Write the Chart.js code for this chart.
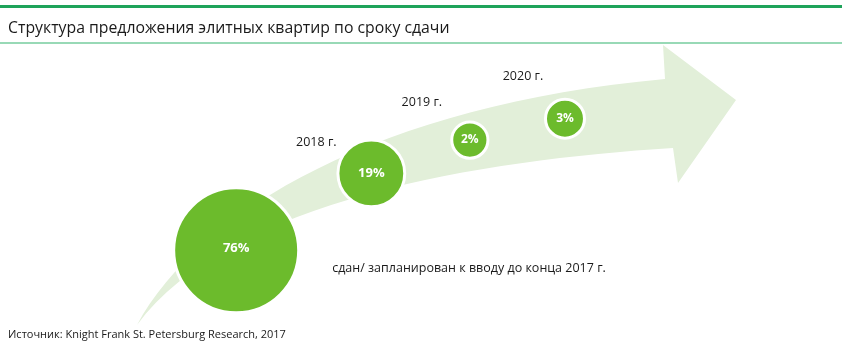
<!DOCTYPE html>
<html>
<head>
<meta charset="utf-8">
<script src="https://cdn.jsdelivr.net/npm/chart.js@4.4.1/dist/chart.umd.min.js"></script>
<style>
html,body{margin:0;padding:0;background:#fff;}
#wrap{width:842px;height:351px;position:relative;}
</style>
</head>
<body>
<div id="wrap"><canvas id="c" width="842" height="351"></canvas></div>
<script>
// ---- data ----
const title = 'Структура предложения элитных квартир по сроку сдачи';
const source = 'Источник: Knight Frank St. Petersburg Research, 2017';
const categories = ['сдан/ запланирован к вводу до конца 2017 г.', '2018 г.', '2019 г.', '2020 г.'];
const shares = [76, 19, 2, 3];
// layout: bubble placement along the arrow (axis units 0..100)
const trackX = [28.05, 44.1, 55.8, 67.1];
const trackY = [28.7, 50.6, 60.1, 66.2];
// layout: category label offsets from bubble centre (px)
const labelOffsets = [[96, 18, 'left'], [-55, -31, 'center'], [-48, -38, 'center'], [-42, -42, 'center']];

const FONT = '"Open Sans", "Noto Sans", sans-serif';
const GREEN = '#6cbb2c';

function bubbleRadius(v) {
  return 13.5 + 49 * Math.pow(v / 76, 0.65);
}

const arrowPlugin = {
  id: 'arrow',
  beforeDatasetsDraw(chart) {
    const ctx = chart.ctx;
    ctx.save();
    ctx.fillStyle = '#e2efd9';
    ctx.beginPath();
    ctx.moveTo(137, 325);
    ctx.bezierCurveTo(200, 210, 380, 105, 665, 79);
    ctx.lineTo(663, 45);
    ctx.lineTo(736, 100);
    ctx.lineTo(678, 183);
    ctx.lineTo(673, 148);
    ctx.bezierCurveTo(480, 160, 230, 200, 137, 325);
    ctx.closePath();
    ctx.fill();
    ctx.restore();
  }
};

const framePlugin = {
  id: 'frame',
  afterDraw(chart) {
    const ctx = chart.ctx;
    ctx.save();
    ctx.fillStyle = '#1ea35a';
    ctx.fillRect(0, 5, 842, 3);
    ctx.fillStyle = '#98d9b6';
    ctx.fillRect(0, 42, 842, 2);
    ctx.fillStyle = '#1a1a1a';
    ctx.textBaseline = 'middle';
    ctx.textAlign = 'left';
    ctx.font = '15.8px ' + FONT;
    ctx.fillText(title, 8, 28);
    ctx.font = '11px ' + FONT;
    ctx.fillText(source, 8, 335);
    ctx.restore();
  }
};

const labelPlugin = {
  id: 'labels',
  afterDatasetsDraw(chart) {
    const ctx = chart.ctx;
    const meta = chart.getDatasetMeta(0);
    ctx.save();
    ctx.textBaseline = 'middle';
    meta.data.forEach((el, i) => {
      ctx.fillStyle = '#ffffff';
      ctx.textAlign = 'center';
      ctx.font = 'bold ' + (shares[i] >= 10 ? 13 : 12) + 'px ' + FONT;
      ctx.fillText(shares[i] + '%', el.x, el.y - (shares[i] >= 50 ? 2 : 0));
      const o = labelOffsets[i];
      ctx.fillStyle = '#1a1a1a';
      ctx.textAlign = o[2];
      ctx.font = '12.5px ' + FONT;
      ctx.fillText(categories[i], el.x + o[0], el.y + o[1]);
    });
    ctx.restore();
  }
};

new Chart(document.getElementById('c'), {
  type: 'bubble',
  data: {
    datasets: [{
      data: shares.map((v, i) => ({ x: trackX[i], y: trackY[i], r: bubbleRadius(v) })),
      backgroundColor: GREEN,
      borderColor: '#ffffff',
      borderWidth: 3,
      hoverBorderWidth: 3,
      clip: false
    }]
  },
  options: {
    responsive: false,
    animation: false,
    devicePixelRatio: 1,
    layout: { padding: 0, autoPadding: false },
    plugins: { legend: { display: false }, tooltip: { enabled: false }, title: { display: false } },
    scales: {
      x: { type: 'linear', display: false, min: 0, max: 100 },
      y: { type: 'linear', display: false, min: 0, max: 100 }
    }
  },
  plugins: [arrowPlugin, framePlugin, labelPlugin]
});
</script>
</body>
</html>
